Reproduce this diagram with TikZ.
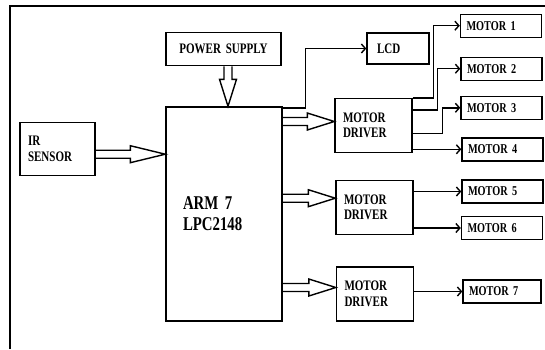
\documentclass[tikz,border=0pt]{standalone}
\usepackage{fontspec}
\setmainfont{Liberation Serif}[FakeStretch=0.76,WordSpace=0.5]
\usetikzlibrary{arrows.meta,calc}

\begin{document}
\begin{tikzpicture}[
    x=1pt, y=-1pt,
    line width=1.4pt,
    blk/.style={draw,align=left,inner ysep=0pt,font=\fontsize{14.5}{15.5}\selectfont\bfseries},
    driver/.style={blk,minimum height=54pt,text width=61pt,inner xsep=8pt},
    motor/.style={blk,minimum height=23pt,text width=69pt,inner xsep=6pt,font=\fontsize{13.5}{14}\selectfont\bfseries},
    wire/.style={-{Straight Barb[length=4pt,width=9pt]}},
    hollow/.style={to path={
        ($(\tikztotarget)!#1!(\tikztostart)$) coordinate (headbase)
        ($(\tikztostart)!4pt!90:(\tikztotarget)$)
        -- ($(headbase)!4pt!90:(\tikztotarget)$)
        -- ($(headbase)!8.5pt!90:(\tikztotarget)$)
        -- (\tikztotarget)
        -- ($(headbase)!8.5pt!-90:(\tikztotarget)$)
        -- ($(headbase)!4pt!-90:(\tikztotarget)$)
        -- ($(\tikztostart)!4pt!-90:(\tikztotarget)$)
    }},
    hollow/.default=27pt
]
\useasboundingbox (0,0) rectangle (545,349);

% khung ngoài
\draw[line width=2pt] (10,349) -- (10,6) -- (545,6);

% các khối chính
\node[blk,align=center,text width=115pt,inner xsep=0pt,minimum height=33pt] (ps) at (223.5,49.2) {POWER SUPPLY};
\node[blk,text width=82pt,inner xsep=17pt,minimum height=214pt,font=\fontsize{19.5}{21}\selectfont\bfseries] (arm) at (224,214) {ARM 7\\LPC2148\\[6pt]};
\node[blk,text width=59pt,inner xsep=8pt,minimum height=53pt,font=\fontsize{14.5}{16}\selectfont\bfseries] (ir) at (57.5,149.2) {IR\\SENSOR};
\node[blk,text width=42pt,inner xsep=10pt,minimum height=31pt] (lcd) at (398,48.5) {LCD};

% các driver
\node[driver] (drv1) at (373.5,125.5) {MOTOR\\DRIVER};
\node[driver] (drv2) at (374.5,207.2) {MOTOR\\DRIVER};
\node[driver] (drv3) at (375,294) {MOTOR\\DRIVER};

% các động cơ
\node[motor] (m1) at (501,25.7) {MOTOR 1};
\node[motor] (m2) at (501.5,68.7) {MOTOR 2};
\node[motor] (m3) at (501.5,107.8) {MOTOR 3};
\node[motor] (m4) at (502.5,149.3) {MOTOR 4};
\node[motor] (m5) at (502.5,191.5) {MOTOR 5};
\node[motor] (m6) at (502,228) {MOTOR 6};
\node[motor,text width=66pt] (m7) at (502,291.5) {MOTOR 7};

% nguồn và cảm biến vào ARM
\draw[hollow] ($(ps.south)+(4.5,0)$) to ($(ps.south |- arm.north)+(4.5,0)$);
\draw[hollow=35pt] ($(ir.east)+(0,5)$) to ($(ir.east -| arm.west)+(0,5)$);

% ARM ra LCD và các driver
\draw[wire] ($(arm.north east)+(0,1.5)$) -- ++(23,0) |- (lcd.west);
\draw[hollow] ($(arm.east |- drv1.west)+(0,-4)$) to ($(drv1.west)+(0,-4)$);
\draw[hollow] ($(arm.east |- drv2.west)+(0,-9)$) to ($(drv2.west)+(0,-9)$);
\draw[hollow] ($(arm.east |- drv3.west)+(0,-6.5)$) to ($(drv3.west)+(0,-6.5)$);

% driver ra động cơ
\draw[wire] (drv1.north east) -- ++(21,0) |- (m1.west);
\draw[wire] ($(drv1.north east)+(0,12)$) -- ++(25,0) |- (m2.west);
\draw[wire] ($(drv1.north east)+(0,35.6)$) -- ++(30,0) |- (m3.west);
\draw[wire] (drv1.east |- m4.west) -- (m4.west);
\draw[wire] (drv2.east |- m5.west) -- (m5.west);
\draw[wire] (drv2.east |- m6.west) -- (m6.west);
\draw[wire] (drv3.east |- m7.west) -- (m7.west);
\end{tikzpicture}
\end{document}
